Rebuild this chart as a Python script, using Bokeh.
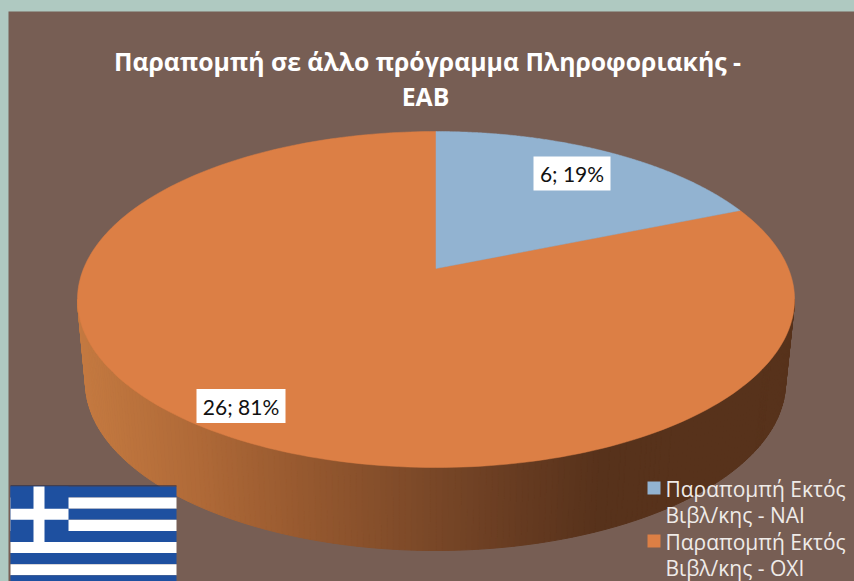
import numpy as np
from bokeh.embed import file_html
from bokeh.models import ColumnDataSource, Range1d
from bokeh.plotting import figure
from bokeh.resources import INLINE
from bokeh.core.properties import value

TITLE = ["Παραπομπή σε άλλο πρόγραμμα Πληροφοριακής -", "ΕΑΒ"]
CATEGORIES = ["Παραπομπή Εκτός\nΒιβλ/κης - ΝΑΙ", "Παραπομπή Εκτός\nΒιβλ/κης - ΟΧΙ"]
VALUES = [6, 26]
COLORS = ["#92B3D1", "#DC7F45"]

PAGE_BG = "#AFC9C1"
CHART_BG = "#775E54"

W, H = 846, 570
p = figure(width=W, height=H, output_backend="svg", toolbar_location=None,
           x_range=Range1d(8, 8 + W), y_range=Range1d(11 + H, 11),
           min_border=0, outline_line_color=None, background_fill_color=CHART_BG,
           border_fill_color=CHART_BG, margin=(11, 0, 0, 8))
p.axis.visible = False
p.grid.visible = False

# geometry of the 3D pie (perspective disc)
CX, CY_APEX = 435.5, 268.0
R_X, R_BACK, R_FRONT = 352.4, 137.0, 199.0
K = (R_BACK - R_FRONT) / (R_BACK + R_FRONT)
A = R_BACK * (1 - K)


def project(theta):
    d = 1 - K * np.cos(theta)
    return CX + R_X * np.sin(theta) / d, CY_APEX - A * np.cos(theta) / d


# side wall
TOP_C, TOP_CY, TOP_RX, TOP_RY = 435.5, 299.0, 358.5, 168.0
BOT_C, BOT_CY, BOT_RX, BOT_RY = 435.0, 382.0, 350.0, 168.0
shade_x = [80, 200, 300, 430, 520, 600, 800]
shade_r = [0xC6, 0xB0, 0x98, 0x7A, 0x66, 0x57, 0x57]
shade_g = [0x7B, 0x6A, 0x5A, 0x48, 0x3B, 0x32, 0x32]
shade_b = [0x41, 0x38, 0x30, 0x28, 0x21, 0x1B, 0x1B]
t = np.radians(np.linspace(90, 270, 181))
xt = TOP_C + TOP_RX * np.sin(t)
yt = TOP_CY - TOP_RY * np.cos(t)
xb = BOT_C + BOT_RX * np.sin(t)
yb = BOT_CY - BOT_RY * np.cos(t)
wall_xs, wall_ys, wall_c = [], [], []
for i in range(len(t) - 1):
    wall_xs.append([xt[i], xt[i + 1], xb[i + 1], xb[i]])
    wall_ys.append([yt[i], yt[i + 1], yb[i + 1], yb[i]])
    xm = (xb[i] + xb[i + 1]) / 2
    wall_c.append("#%02X%02X%02X" % (int(np.interp(xm, shade_x, shade_r)),
                                     int(np.interp(xm, shade_x, shade_g)),
                                     int(np.interp(xm, shade_x, shade_b))))
p.patches(wall_xs, wall_ys, fill_color=wall_c, line_color=wall_c, line_width=1)

# top face
total = sum(VALUES)
start = 0.0
order = [1, 0]
spans = {}
for i, v in enumerate(VALUES):
    spans[i] = (start, start + 2 * np.pi * v / total)
    start = spans[i][1]
for i in order:
    a0, a1 = spans[i]
    th = np.linspace(a0, a1, 240)
    x, y = project(th)
    p.patch(np.r_[CX, x], np.r_[CY_APEX, y], fill_color=COLORS[i], line_color=COLORS[i], line_width=0.5)

# data labels
LABEL_X = [571.5, 240.5]
LABEL_Y = [173, 405.5]
LABEL_W = [77, 89]
LABEL_H = [34, 34]
labels = [f"{v}; {round(100 * v / total)}%" for v in VALUES]
src = ColumnDataSource(dict(x=LABEL_X, y=LABEL_Y, w=LABEL_W, h=LABEL_H, t=labels))
p.rect("x", "y", "w", "h", source=src, fill_color="white", line_color=None)
p.text("x", "y", text="t", source=src, text_font=value("Lato"), text_font_size="21px",
       text_color="#111111", text_align="center", text_baseline="middle")

# title
p.text([427, 425], [60, 95], text=TITLE, text_font=value("Open Sans"), text_font_size="24.8px",
       text_font_style="bold", text_color="white", text_align="center", text_baseline="middle")

# legend
LEG_BOX_X = [647, 647]
LEG_BOX_Y = [481, 534]
LEG_TEXT_Y = [488, 541]
LINE_STEP = 26
for i, cat in enumerate(CATEGORIES):
    p.quad(left=[LEG_BOX_X[i]], right=[LEG_BOX_X[i] + 13], top=[LEG_BOX_Y[i]], bottom=[LEG_BOX_Y[i] + 13],
           fill_color=COLORS[i], line_color=None)
    for j, line in enumerate(cat.split("\n")):
        p.text([665], [LEG_TEXT_Y[i] + j * LINE_STEP], text=[line], text_font=value("Open Sans"),
               text_font_size="21px", text_color="#EFEBE8", text_align="left", text_baseline="middle")

# flag
FLAG_L, FLAG_R, FLAG_T = 10, 176, 486
STRIPE = 11.1
FLAG_BLUE = "#1E50A0"
p.line([FLAG_L, FLAG_R], [FLAG_T - 0.5, FLAG_T - 0.5], line_color="#10204A", line_width=1)
for k in range(9):
    p.quad(left=[FLAG_L], right=[FLAG_R], top=[FLAG_T + k * STRIPE], bottom=[FLAG_T + (k + 1) * STRIPE],
           fill_color=FLAG_BLUE if k % 2 == 0 else "white", line_color=None)
p.quad(left=[FLAG_L], right=[68], top=[FLAG_T], bottom=[FLAG_T + 5 * STRIPE], fill_color=FLAG_BLUE, line_color=None)
p.quad(left=[33], right=[44], top=[FLAG_T], bottom=[FLAG_T + 5 * STRIPE], fill_color="white", line_color=None)
p.quad(left=[FLAG_L], right=[68], top=[FLAG_T + 2 * STRIPE], bottom=[FLAG_T + 3 * STRIPE], fill_color="white", line_color=None)

html = file_html(p, INLINE, title="chart")
html = html.replace("</head>", f"<style>html,body{{background:{PAGE_BG};overflow:hidden}}</style></head>", 1)
open("out.html", "w", encoding="utf-8").write(html)
